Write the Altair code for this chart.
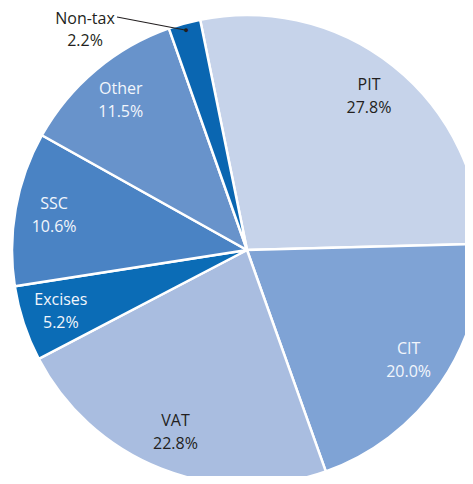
import math
import altair as alt
import pandas as pd

categories = ["PIT", "CIT", "VAT", "Excises", "SSC", "Other", "Non-tax"]
shares = [27.8, 20.0, 22.8, 5.2, 10.6, 11.5, 2.2]
colors = ["#c6d3ea", "#7fa3d5", "#a9bde0", "#0b6cb6", "#4a83c4", "#6893cb", "#0a66b1"]
text_colors = ["#231f20", "#f2f6fc", "#231f20", "#f2f6fc", "#f2f6fc", "#f2f6fc", "#231f20"]

start = math.radians(-11.5)
cx, cy, R = 239, 242, 235

df = pd.DataFrame({
    "cat": categories,
    "share": shares,
    "order": list(range(len(categories))),
    "tcol": text_colors,
})
df["label"] = [f"{c}\n{v:.1f}%" for c, v in zip(categories, shares)]
df["inside"] = [("" if c == "Non-tax" else l) for c, l in zip(categories, df["label"])]
df["dot"] = [("●" if c == "Non-tax" else "") for c in categories]

theta = alt.Theta("share:Q", stack=True, scale=alt.Scale(range=[start, start + 2 * math.pi]))
base = alt.Chart(df).encode(
    theta=theta,
    order=alt.Order("order:Q"),
    x=alt.value(cx),
    y=alt.value(cy),
)

pie = base.mark_arc(outerRadius=R, stroke="white", strokeWidth=2.5).encode(
    color=alt.Color("cat:N", scale=alt.Scale(domain=categories, range=colors), legend=None)
)

labels = base.mark_text(
    radius=196, dy=-11.5, lineBreak="\n", lineHeight=23, font="Open Sans", fontSize=16,
    align="center", baseline="middle"
).encode(
    text="inside:N",
    color=alt.Color("tcol:N", scale=None),
)

dot = base.mark_text(
    radius=228, fontSize=9, color="#231f20", baseline="middle", align="center"
).encode(text="dot:N")

# leader line for the Non-tax slice, from the slice middle to the outside label
total = sum(shares)
cum = sum(shares[:-1])
a = start + 2 * math.pi * (cum + shares[-1] / 2) / total
dx_, dy_ = cx + 228 * math.sin(a), cy - 228 * math.cos(a)
leader = alt.Chart(pd.DataFrame({"k": [0]})).mark_rule(color="#231f20", strokeWidth=1.2).encode(
    x=alt.value(dx_), y=alt.value(dy_), x2=alt.value(109), y2=alt.value(9)
)

outside = alt.Chart(df[df.cat == "Non-tax"]).mark_text(
    lineBreak="\n", lineHeight=22, font="Open Sans", fontSize=16, dy=-11,
    align="center", baseline="middle", color="#231f20"
).encode(text="label:N", x=alt.value(77), y=alt.value(22))

chart = alt.layer(pie, labels, leader, dot, outside).properties(
    width=457, height=468, padding=0,
    autosize=alt.AutoSizeParams(type="none"),
).configure_view(stroke=None)

chart.save("out.html", embed_options={"renderer": "svg", "actions": False})
